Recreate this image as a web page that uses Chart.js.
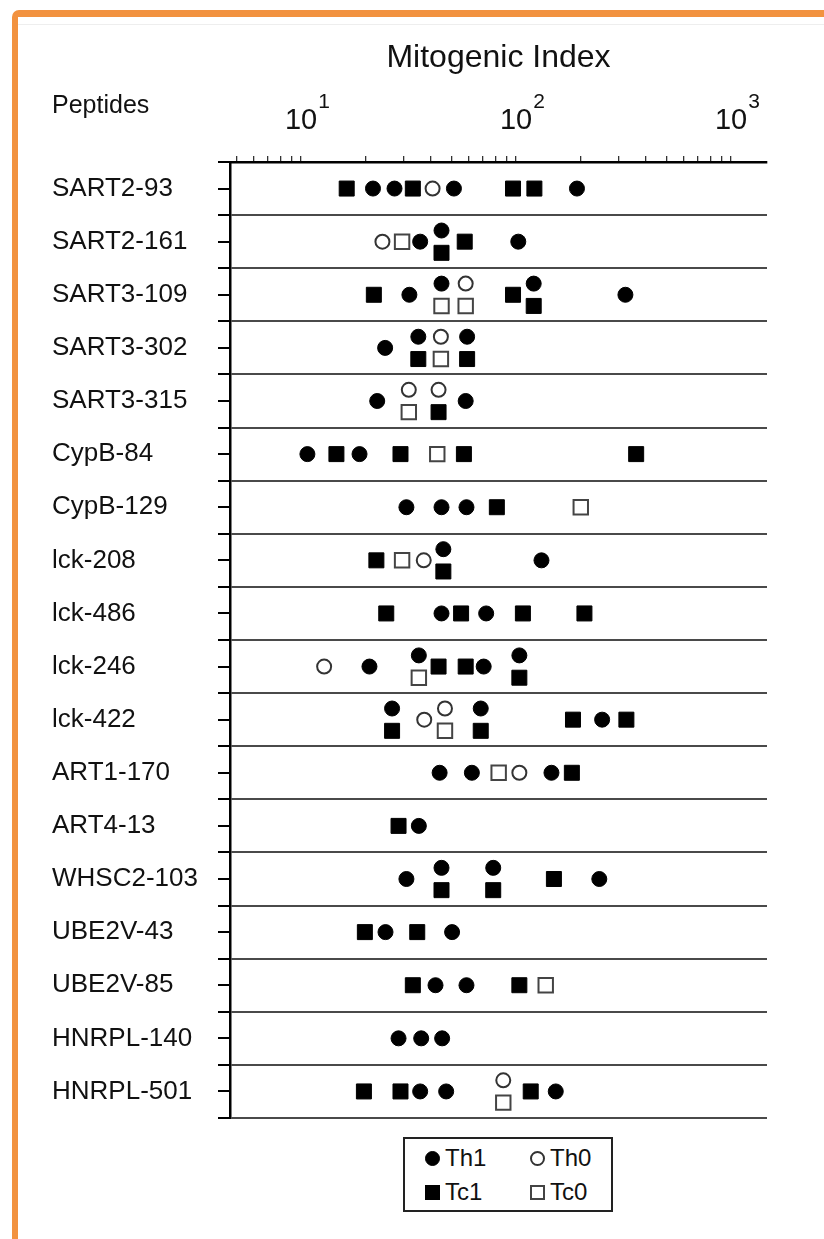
<!DOCTYPE html>
<html>
<head>
<meta charset="utf-8">
<title>Mitogenic Index</title>
<script src="https://cdn.jsdelivr.net/npm/chart.js@4.4.1/dist/chart.umd.min.js"></script>
<style>
  html, body { margin: 0; padding: 0; background: #fff; }
  #wrap { position: relative; width: 824px; height: 1239px; overflow: hidden; background: #fff; }
  #frame {
    position: absolute; left: 12px; top: 10px; width: 840px; height: 1280px;
    border-top: 7px solid #f2923f; border-left: 6px solid #f2923f;
    border-top-left-radius: 7px; box-sizing: border-box;
  }
  #frame::after {
    content: ""; position: absolute; left: 0; right: 0; top: 7px; height: 1px; background: #eeeeee;
  }
  #chart { position: absolute; left: 0; top: 0; }
  #legend {
    position: absolute; left: 403px; top: 1137px; width: 210px; height: 75px;
    border: 2px solid #222; box-sizing: border-box; background: #fff; color: #111;
    font: 24px "Liberation Sans", Arial, sans-serif;
  }
  .entry { position: absolute; height: 30px; display: flex; align-items: center; }
  .mark { width: 15px; height: 15px; box-sizing: border-box; margin-right: 5px; }
</style>
</head>
<body>
<div id="wrap">
  <div id="frame"></div>
  <canvas id="chart" width="824" height="1239"></canvas>
  <div id="legend"></div>
</div>
<script>
// Peptides (rows, top to bottom)
const peptides = [
  'SART2-93', 'SART2-161', 'SART3-109', 'SART3-302', 'SART3-315',
  'CypB-84', 'CypB-129', 'lck-208', 'lck-486', 'lck-246', 'lck-422',
  'ART1-170', 'ART4-13', 'WHSC2-103', 'UBE2V-43', 'UBE2V-85',
  'HNRPL-140', 'HNRPL-501'
];

// Mitogenic index per peptide, one list per row, for each response type
const th1 = [
  [21.6, 27.2, 51.4, 192],
  [35.8, 45.0, 102.4],
  [31.9, 45.0, 120.8, 322.6],
  [24.6, 35.1, 59.2],
  [22.6, 58.3],
  [10.7, 18.7],
  [30.9, 45.0, 58.8],
  [45.9, 131.3],
  [45.0, 72.6],
  [20.8, 35.3, 70.7, 103.6],
  [26.5, 68.5, 251.4],
  [44.1, 62.3, 146.1],
  [35.3],
  [30.9, 45.0, 78.3, 243.9],
  [24.7, 50.4],
  [42.2, 58.8],
  [28.4, 36.2, 45.3],
  [35.8, 47.3, 153]
];
const th0 = [
  [40.9], [23.9], [58.3], [44.7], [31.7, 43.6], [], [], [37.2], [],
  [12.8], [37.4, 46.7], [103.6], [], [], [], [], [], [87.2]
];
const tc1 = [
  [16.3, 33.1, 96.8, 121.7],
  [45.0, 57.7],
  [21.8, 96.8, 120.8],
  [35.1, 59.2],
  [43.6],
  [14.6, 29.0, 57.2, 362],
  [81.4],
  [22.4, 45.9],
  [24.9, 55.5, 107.6, 208],
  [43.6, 58.3, 103.6],
  [26.5, 68.5, 184, 326],
  [181.8],
  [28.4],
  [45.0, 78.3, 150],
  [19.8, 34.7],
  [33.1, 103.6],
  [],
  [19.6, 29.0, 117]
];
const tc0 = [
  [], [29.5], [45.0, 58.3], [44.7], [31.7], [43.0], [200], [29.5], [],
  [35.3], [46.7], [83.0], [], [], [], [137.4], [], [87.2]
];

// Axis tick values and the labelled decades
const axisTicks = [5, 6, 7, 8, 9, 10, 20, 30, 40, 50, 60, 70, 80, 90,
                   100, 200, 300, 400, 500, 600, 700, 800, 900, 1000];
const decadeTicks = [10, 100, 1000];
const decadeExponents = ['1', '2', '3'];
const axisTitle = 'Mitogenic Index';
const rowHeader = 'Peptides';

const FAMILY = '"Liberation Sans", Arial, sans-serif';
const font = size => size + 'px ' + FAMILY;

const LIFT = 0.21; // vertical shift used when a circle and a square share a value

// A circle sitting on the same value as a square in its row goes above it,
// the square goes below; all other marks sit on the row line.
function rowPoints(rows, partners, dir) {
  const pts = [];
  rows.forEach((vals, r) => {
    const others = partners.flatMap(p => p[r]);
    vals.forEach(v => {
      const shared = others.includes(v);
      pts.push({ x: v, y: r + (shared ? dir * LIFT : 0) });
    });
  });
  return pts;
}

const datasets = [
  { label: 'Th1', data: rowPoints(th1, [tc1, tc0], -1), pointStyle: 'circle',
    pointRadius: 7.5, backgroundColor: '#000', borderColor: '#000', borderWidth: 1 },
  { label: 'Th0', data: rowPoints(th0, [tc1, tc0], -1), pointStyle: 'circle',
    pointRadius: 7, backgroundColor: '#fff', borderColor: '#333', borderWidth: 2 },
  { label: 'Tc1', data: rowPoints(tc1, [th1, th0], 1), pointStyle: 'rect',
    pointRadius: 10.6, backgroundColor: '#000', borderColor: '#000', borderWidth: 1 },
  { label: 'Tc0', data: rowPoints(tc0, [th1, th0], 1), pointStyle: 'rect',
    pointRadius: 10.2, backgroundColor: '#fff', borderColor: '#444', borderWidth: 2 }
];

// Header texts: axis title, row header, and 10^n decade labels
const headerText = {
  id: 'headerText',
  afterDraw(chart) {
    const { ctx, chartArea, scales } = chart;
    const x = scales.x;
    ctx.save();
    ctx.fillStyle = '#111';
    ctx.textBaseline = 'middle';
    ctx.textAlign = 'center';
    ctx.font = font(32);
    ctx.fillText(axisTitle, (chartArea.left + chartArea.right) / 2, 58);
    ctx.textAlign = 'left';
    ctx.font = font(25);
    ctx.fillText(rowHeader, 52, 106);
    decadeTicks.forEach((v, i) => {
      const px = x.getPixelForValue(v);
      ctx.font = font(29);
      ctx.textAlign = 'center';
      ctx.fillText('10', px, 121);
      const w = ctx.measureText('10').width;
      ctx.font = font(21);
      ctx.textAlign = 'left';
      ctx.fillText(decadeExponents[i], px + w / 2 + 1, 102);
    });
    ctx.restore();
  }
};

const chart = new Chart(document.getElementById('chart'), {
  type: 'scatter',
  data: { datasets },
  options: {
    responsive: false,
    animation: false,
    events: [],
    layout: { padding: { top: 0, left: 52, right: 57, bottom: 121 } },
    plugins: { legend: { display: false }, tooltip: { enabled: false } },
    scales: {
      x: {
        type: 'logarithmic',
        position: 'top',
        min: 4.67,
        max: 1470,
        afterBuildTicks: s => { s.ticks = axisTicks.map(v => ({ value: v })); },
        afterFit: s => { s.height = 162; },
        ticks: { autoSkip: false, maxRotation: 0, callback: () => '' },
        grid: { drawOnChartArea: false, drawTicks: true, tickLength: 6, color: '#333', lineWidth: 1.3 },
        border: { display: true, color: '#000', width: 2.5 }
      },
      y: {
        type: 'linear',
        reverse: true,
        min: -0.5,
        max: peptides.length - 0.5,
        afterBuildTicks: s => {
          const t = [];
          for (let i = 0; i <= peptides.length * 2; i++) t.push({ value: -0.5 + i * 0.5 });
          s.ticks = t;
        },
        afterFit: s => { s.width = 178; },
        ticks: {
          autoSkip: false,
          crossAlign: 'far',
          color: '#111',
          font: { family: FAMILY, size: 26 },
          callback: v => Number.isInteger(v) ? peptides[v] : ''
        },
        grid: {
          color: c => Number.isInteger(c.tick.value) ? 'rgba(0,0,0,0)' : '#4a4a4a',
          tickColor: '#000',
          lineWidth: 2,
          tickLength: 12
        },
        border: { display: true, color: '#000', width: 2.5 }
      }
    }
  },
  plugins: [headerText]
});

// Legend box built from the datasets
(function buildLegend() {
  const box = document.getElementById('legend');
  const cols = [20, 125];
  const rows = [4, 38];
  chart.data.datasets.forEach((ds, i) => {
    const e = document.createElement('div');
    e.className = 'entry';
    e.style.left = cols[i % 2] + 'px';
    e.style.top = rows[Math.floor(i / 2)] + 'px';
    const m = document.createElement('span');
    m.className = 'mark';
    m.style.background = ds.backgroundColor;
    m.style.border = (ds.backgroundColor === '#fff' ? '2px' : '1px') + ' solid ' + ds.borderColor;
    if (ds.pointStyle === 'circle') m.style.borderRadius = '50%';
    const t = document.createElement('span');
    t.textContent = ds.label;
    e.appendChild(m);
    e.appendChild(t);
    box.appendChild(e);
  });
})();
</script>
</body>
</html>
